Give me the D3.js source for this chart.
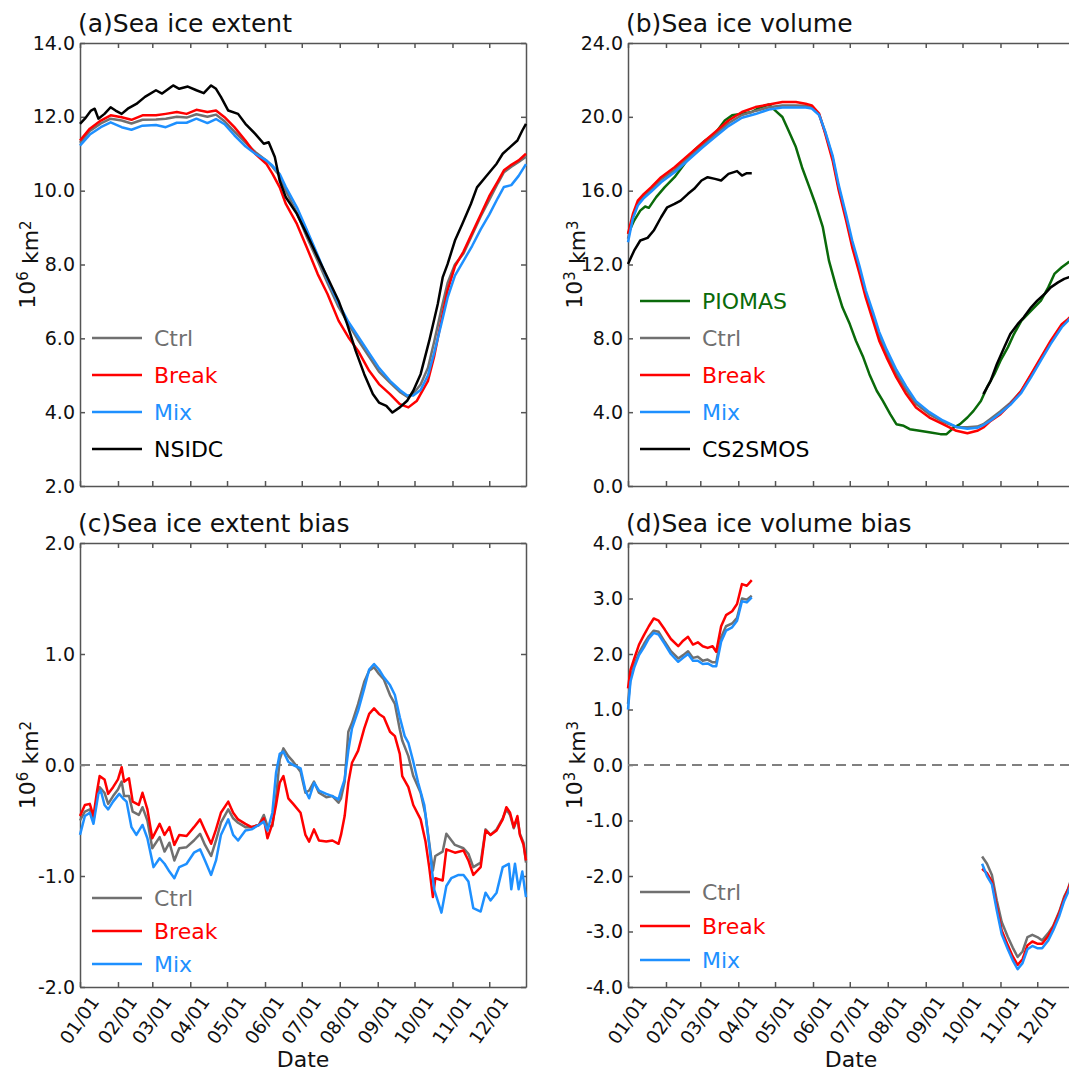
<!DOCTYPE html>
<html>
<head>
<meta charset="utf-8">
<script src="https://cdn.jsdelivr.net/npm/d3@7"></script>
<style>
body { margin: 0; background: #fff; }
text { font-family: "DejaVu Sans", sans-serif; }
</style>
</head>
<body>
<svg id="chart" width="1069" height="1071"></svg>
<script>
// month ticks (day of year) and labels
var monthDays = [0, 31, 59, 90, 120, 151, 181, 212, 243, 273, 304, 334];
var monthLabels = ["01/01","02/01","03/01","04/01","05/01","06/01","07/01","08/01","09/01","10/01","11/01","12/01"];

// (a) sea ice extent, 10^6 km2  [day, value]
var extCtrl = [[0,11.3],[8,11.62],[17,11.82],[25,11.95],[34,11.9],[42,11.82],[51,11.92],[62,11.93],[70,11.95],[79,12.0],[87,11.98],[95,12.07],[104,12.0],[111,12.06],[118,11.88],[126,11.6],[135,11.3],[143,11.05],[152,10.82],[157,10.65],[163,10.4],[168,10.0],[177,9.4],[185,8.75],[194,8.1],[202,7.5],[211,6.85],[219,6.4],[227,5.95],[236,5.5],[244,5.1],[253,4.8],[261,4.55],[267,4.42],[272,4.5],[278,4.75],[284,5.2],[289,5.9],[295,6.8],[300,7.5],[306,8.0],[313,8.3],[320,8.8],[327,9.3],[334,9.75],[341,10.2],[346,10.5],[352,10.65],[358,10.78],[364,10.92]];
var extBreak = [[0,11.36],[8,11.68],[17,11.9],[25,12.04],[34,11.99],[42,11.92],[51,12.04],[62,12.04],[70,12.08],[79,12.13],[87,12.08],[95,12.19],[104,12.13],[111,12.17],[118,11.99],[126,11.72],[135,11.36],[143,11.0],[152,10.73],[157,10.46],[163,10.09],[168,9.64],[177,9.1],[185,8.47],[194,7.74],[202,7.2],[211,6.48],[219,6.03],[227,5.66],[236,5.12],[244,4.76],[253,4.49],[261,4.22],[268,4.13],[275,4.31],[284,4.85],[289,5.5],[295,6.5],[300,7.3],[306,7.95],[313,8.35],[320,8.85],[327,9.35],[334,9.85],[341,10.25],[346,10.55],[352,10.7],[358,10.82],[364,11.0]];
var extMix = [[0,11.22],[8,11.52],[17,11.72],[25,11.85],[34,11.72],[42,11.65],[51,11.76],[62,11.78],[70,11.72],[79,11.84],[87,11.84],[95,11.95],[104,11.83],[111,11.94],[118,11.8],[126,11.5],[135,11.2],[143,11.0],[152,10.82],[157,10.68],[163,10.45],[168,10.1],[177,9.55],[185,8.95],[194,8.25],[202,7.6],[211,6.95],[219,6.45],[227,6.05],[236,5.6],[244,5.2],[253,4.85],[261,4.6],[267,4.45],[272,4.45],[278,4.6],[284,5.0],[289,5.6],[295,6.4],[300,7.1],[306,7.7],[313,8.1],[320,8.5],[327,8.95],[334,9.35],[341,9.8],[346,10.1],[352,10.15],[358,10.4],[364,10.72]];
var extNsidc = [[0,11.81],[4,11.95],[9,12.17],[12,12.22],[15,11.95],[20,12.08],[25,12.26],[29,12.17],[34,12.08],[39,12.22],[46,12.35],[53,12.54],[62,12.72],[67,12.63],[76,12.85],[81,12.76],[88,12.82],[95,12.72],[101,12.64],[107,12.85],[111,12.76],[115,12.54],[121,12.17],[129,12.08],[135,11.81],[143,11.54],[150,11.27],[154,11.31],[159,10.91],[163,10.27],[168,9.82],[177,9.37],[185,8.83],[194,8.2],[202,7.65],[211,7.02],[218,6.39],[225,5.66],[232,5.03],[239,4.49],[244,4.26],[250,4.17],[255,3.99],[261,4.13],[267,4.31],[272,4.58],[278,5.03],[285,5.93],[292,6.93],[296,7.65],[300,8.01],[306,8.65],[312,9.1],[319,9.64],[324,10.09],[331,10.37],[340,10.73],[345,11.0],[351,11.18],[357,11.36],[361,11.63],[364,11.81]];

// (b) sea ice volume, 10^3 km3
var volPiomas = [[0,13.66],[5,14.38],[10,14.92],[14,15.14],[17,15.07],[23,15.65],[30,16.19],[38,16.73],[46,17.45],[54,18.18],[63,18.72],[71,19.08],[79,19.8],[85,20.08],[93,20.17],[101,20.26],[107,20.49],[115,20.67],[120,20.35],[126,19.99],[131,19.26],[137,18.36],[142,17.27],[148,16.19],[153,15.28],[159,14.02],[164,12.21],[170,10.76],[175,9.68],[181,8.77],[186,7.87],[192,6.97],[197,6.06],[203,5.16],[208,4.61],[214,3.89],[219,3.35],[225,3.26],[230,3.08],[238,2.99],[247,2.9],[255,2.81],[260,2.81],[266,3.17],[271,3.35],[277,3.71],[282,4.07],[288,4.61],[293,5.34],[299,6.06],[304,6.79],[310,7.51],[315,8.23],[321,8.95],[329,9.5],[337,10.04],[343,10.76],[348,11.49],[354,11.85],[359,12.1],[364,12.3]];
var volCtrl = [[0,13.4],[4,14.6],[8,15.3],[13,15.7],[19,16.05],[27,16.6],[38,17.12],[49,17.78],[60,18.42],[71,19.03],[82,19.65],[93,20.1],[104,20.32],[115,20.52],[126,20.62],[137,20.62],[145,20.6],[150,20.52],[156,20.12],[161,19.15],[167,17.78],[172,16.15],[178,14.55],[183,13.1],[189,11.7],[194,10.4],[200,9.2],[205,8.1],[211,7.2],[219,6.1],[227,5.2],[235,4.45],[246,3.88],[257,3.48],[268,3.2],[277,3.18],[285,3.22],[290,3.35],[296,3.65],[304,4.05],[312,4.5],[321,5.15],[329,6.0],[337,6.9],[345,7.8],[354,8.7],[359,9.0],[364,9.3]];
var volBreak = [[0,13.66],[4,14.74],[8,15.46],[13,15.83],[19,16.19],[27,16.73],[38,17.27],[49,17.91],[60,18.54],[71,19.17],[82,19.8],[93,20.26],[104,20.53],[115,20.67],[126,20.8],[137,20.8],[145,20.71],[150,20.62],[156,20.17],[161,19.08],[167,17.63],[172,16.01],[178,14.38],[183,12.93],[189,11.49],[194,10.22],[200,8.95],[205,7.87],[211,6.97],[219,5.88],[227,4.98],[235,4.25],[246,3.71],[257,3.35],[268,2.99],[277,2.86],[285,2.99],[290,3.17],[296,3.53],[304,3.89],[312,4.43],[321,5.16],[329,6.06],[337,6.97],[345,7.87],[354,8.77],[359,9.04],[364,9.35]];
var volMix = [[0,13.2],[4,14.5],[8,15.2],[13,15.6],[19,15.95],[27,16.45],[38,17.0],[49,17.65],[60,18.3],[71,18.9],[82,19.5],[93,19.95],[104,20.15],[115,20.4],[126,20.5],[137,20.5],[145,20.5],[150,20.45],[156,20.1],[161,19.2],[167,17.9],[172,16.3],[178,14.7],[183,13.3],[189,11.9],[194,10.6],[200,9.4],[205,8.35],[211,7.4],[219,6.3],[227,5.4],[235,4.6],[246,4.0],[257,3.55],[268,3.2],[277,3.1],[285,3.15],[290,3.3],[296,3.55],[304,3.95],[312,4.4],[321,5.05],[329,5.9],[337,6.8],[345,7.7],[354,8.6],[359,8.95],[364,9.3]];
var volCs2smosA = [[0,12.03],[5,12.75],[10,13.3],[16,13.44],[21,13.84],[27,14.56],[32,15.1],[38,15.28],[43,15.46],[49,15.83],[54,16.1],[60,16.55],[65,16.73],[71,16.64],[76,16.55],[82,16.91],[89,17.06],[93,16.82],[97,16.95],[101,16.95]];
var volCs2smosB = [[290,4.98],[296,5.7],[301,6.6],[307,7.51],[312,8.23],[318,8.77],[323,9.14],[329,9.68],[334,10.04],[340,10.4],[345,10.76],[351,11.03],[356,11.22],[360,11.31],[364,11.4]];

// (c) extent bias, 10^6 km2
var biasExtCtrl = [[0,-0.5],[4,-0.42],[8,-0.4],[11,-0.5],[14,-0.28],[16,-0.2],[20,-0.25],[23,-0.35],[27,-0.28],[31,-0.22],[34,-0.15],[36,-0.28],[40,-0.28],[43,-0.42],[48,-0.45],[51,-0.38],[55,-0.5],[59,-0.75],[65,-0.65],[69,-0.78],[73,-0.7],[77,-0.86],[81,-0.75],[87,-0.74],[93,-0.68],[98,-0.62],[102,-0.72],[107,-0.82],[111,-0.68],[115,-0.52],[121,-0.4],[125,-0.48],[129,-0.52],[135,-0.56],[140,-0.56],[146,-0.54],[150,-0.45],[153,-0.55],[157,-0.55],[160,-0.3],[163,0.05],[166,0.15],[170,0.08],[174,0.03],[180,-0.06],[184,-0.25],[187,-0.23],[191,-0.15],[195,-0.25],[201,-0.29],[206,-0.28],[211,-0.34],[213,-0.3],[216,-0.15],[219,0.3],[222,0.38],[227,0.55],[232,0.75],[236,0.85],[240,0.88],[244,0.82],[248,0.77],[253,0.63],[257,0.55],[261,0.32],[263,0.22],[268,0.08],[272,-0.1],[278,-0.25],[282,-0.45],[285,-0.7],[288,-0.95],[290,-0.82],[296,-0.78],[299,-0.62],[306,-0.72],[313,-0.75],[317,-0.8],[321,-0.92],[327,-0.88],[331,-0.58],[335,-0.63],[340,-0.58],[345,-0.48],[348,-0.4],[351,-0.45],[354,-0.57],[357,-0.48],[359,-0.62],[362,-0.7],[364,-0.88]];
var biasExtBreak = [[0,-0.46],[4,-0.36],[8,-0.35],[11,-0.46],[14,-0.23],[16,-0.1],[20,-0.13],[23,-0.26],[27,-0.2],[31,-0.13],[34,-0.02],[36,-0.15],[40,-0.12],[43,-0.33],[48,-0.36],[51,-0.25],[55,-0.4],[59,-0.66],[65,-0.53],[69,-0.63],[73,-0.56],[77,-0.72],[81,-0.63],[87,-0.64],[93,-0.56],[98,-0.49],[102,-0.59],[107,-0.71],[111,-0.58],[115,-0.43],[121,-0.33],[125,-0.43],[129,-0.49],[135,-0.53],[140,-0.56],[146,-0.54],[150,-0.48],[153,-0.66],[157,-0.53],[160,-0.36],[163,-0.16],[166,-0.1],[170,-0.3],[174,-0.35],[180,-0.43],[184,-0.63],[187,-0.69],[191,-0.58],[195,-0.68],[201,-0.69],[206,-0.68],[211,-0.71],[213,-0.63],[216,-0.46],[219,-0.16],[222,0.02],[227,0.13],[232,0.33],[236,0.46],[240,0.51],[244,0.46],[248,0.43],[253,0.3],[257,0.26],[261,0.1],[263,-0.1],[268,-0.2],[272,-0.36],[278,-0.49],[282,-0.69],[285,-0.92],[288,-1.19],[290,-1.02],[296,-1.04],[299,-0.76],[306,-0.79],[313,-0.77],[317,-0.86],[321,-0.99],[327,-0.92],[331,-0.59],[335,-0.63],[340,-0.59],[345,-0.49],[348,-0.38],[351,-0.43],[354,-0.56],[357,-0.46],[359,-0.63],[362,-0.72],[364,-0.86]];
var biasExtMix = [[0,-0.63],[4,-0.46],[8,-0.43],[11,-0.53],[15,-0.26],[17,-0.23],[20,-0.36],[23,-0.4],[27,-0.33],[32,-0.26],[35,-0.3],[38,-0.33],[42,-0.56],[46,-0.63],[51,-0.54],[55,-0.66],[60,-0.92],[65,-0.84],[69,-0.89],[73,-0.96],[77,-1.02],[81,-0.92],[87,-0.89],[93,-0.79],[98,-0.76],[102,-0.86],[107,-0.99],[111,-0.86],[115,-0.63],[121,-0.49],[125,-0.63],[129,-0.68],[135,-0.59],[140,-0.58],[146,-0.54],[150,-0.51],[153,-0.59],[157,-0.43],[160,-0.07],[163,0.1],[166,0.12],[170,0.03],[174,0.0],[180,-0.03],[184,-0.23],[187,-0.3],[191,-0.16],[195,-0.23],[201,-0.26],[206,-0.28],[211,-0.31],[213,-0.23],[216,-0.13],[219,0.13],[222,0.33],[227,0.49],[232,0.69],[236,0.86],[240,0.91],[244,0.86],[248,0.79],[253,0.72],[257,0.63],[261,0.43],[265,0.26],[268,0.2],[272,0.03],[276,-0.16],[281,-0.36],[285,-0.72],[289,-1.12],[295,-1.33],[299,-1.09],[303,-1.02],[309,-0.99],[313,-0.99],[317,-1.05],[321,-1.29],[327,-1.32],[331,-1.15],[335,-1.22],[340,-1.15],[345,-0.92],[350,-0.89],[352,-1.12],[355,-0.89],[358,-1.12],[361,-0.96],[364,-1.19]];

// (d) volume bias, 10^3 km3 (two periods with CS2SMOS data)
var biasVolCtrlA = [[0,1.1],[2,1.55],[5,1.8],[9,2.02],[13,2.18],[17,2.32],[21,2.42],[25,2.4],[30,2.22],[35,2.05],[41,1.92],[45,1.98],[49,2.05],[53,1.93],[57,1.95],[61,1.88],[65,1.9],[69,1.85],[72,1.85],[76,2.3],[80,2.5],[85,2.55],[89,2.65],[93,3.0],[97,2.98],[101,3.05]];
var biasVolBreakA = [[0,1.38],[2,1.71],[5,1.91],[9,2.17],[13,2.34],[17,2.5],[21,2.64],[25,2.6],[30,2.44],[35,2.27],[41,2.14],[45,2.24],[49,2.31],[53,2.17],[57,2.21],[61,2.14],[65,2.11],[69,2.14],[72,2.04],[76,2.5],[80,2.7],[85,2.77],[89,2.9],[93,3.26],[97,3.23],[101,3.33]];
var biasVolMixA = [[0,1.0],[2,1.5],[5,1.75],[9,1.98],[13,2.12],[17,2.28],[21,2.38],[25,2.35],[30,2.18],[35,2.0],[41,1.86],[45,1.93],[49,2.0],[53,1.88],[57,1.88],[61,1.82],[65,1.83],[69,1.78],[72,1.78],[76,2.22],[80,2.42],[85,2.48],[89,2.6],[93,2.95],[97,2.93],[101,3.02]];
var biasVolCtrlB = [[289,-1.65],[293,-1.78],[297,-1.98],[301,-2.44],[305,-2.83],[310,-3.1],[314,-3.29],[318,-3.46],[322,-3.36],[326,-3.1],[330,-3.06],[334,-3.1],[338,-3.16],[343,-3.03],[347,-2.9],[352,-2.64],[356,-2.37],[359,-2.24],[364,-1.9]];
var biasVolBreakB = [[289,-1.87],[293,-1.95],[297,-2.1],[301,-2.55],[305,-2.98],[310,-3.25],[314,-3.45],[318,-3.6],[322,-3.5],[326,-3.25],[330,-3.18],[334,-3.22],[338,-3.22],[343,-3.08],[347,-2.92],[352,-2.66],[356,-2.4],[359,-2.25],[364,-1.95]];
var biasVolMixB = [[289,-1.78],[293,-2.0],[297,-2.15],[301,-2.62],[305,-3.05],[310,-3.32],[314,-3.52],[318,-3.68],[322,-3.57],[326,-3.32],[330,-3.26],[334,-3.3],[338,-3.3],[343,-3.16],[347,-2.98],[352,-2.72],[356,-2.45],[359,-2.3],[364,-2.0]];

var colCtrl = "#707070", colBreak = "#ff0000", colMix = "#1e90ff", colObs = "#000000", colPiomas = "#0a6a0a";

var svg = d3.select("#chart");
var pw = 446, axisCol = "#555", lw = 2.5;

function drawPanel(p) {
  var g = svg.append("g");
  var x = d3.scaleLinear().domain([0, 364]).range([p.left, p.left + pw]);
  var y = d3.scaleLinear().domain(p.yDomain).range([p.top + p.h, p.top]);
  var fmt = function(d) { return d.toFixed(1); };

  // axes with inward ticks on all sides
  var left = g.append("g").attr("transform", "translate(" + p.left + ",0)")
    .call(d3.axisLeft(y).tickValues(p.yTicks).tickSize(-5).tickSizeOuter(0).tickPadding(5).tickFormat(fmt));
  var right = g.append("g").attr("transform", "translate(" + (p.left + pw) + ",0)")
    .call(d3.axisRight(y).tickValues(p.yTicks).tickSize(-5).tickSizeOuter(0).tickFormat(""));
  var top = g.append("g").attr("transform", "translate(0," + p.top + ")")
    .call(d3.axisTop(x).tickValues(monthDays).tickSize(-5).tickSizeOuter(0).tickFormat(""));
  var bottom = g.append("g").attr("transform", "translate(0," + (p.top + p.h) + ")")
    .call(d3.axisBottom(x).tickValues(monthDays).tickSize(-5).tickSizeOuter(0).tickFormat(""));
  [left, right, top, bottom].forEach(function(a) {
    a.selectAll("path, line").attr("stroke", axisCol).attr("stroke-width", 1.5);
  });
  left.selectAll("text").attr("font-size", 19).attr("fill", "#111").style("font-family", "DejaVu Sans");

  if (p.dateAxis) {
    bottom.selectAll(".tick").append("text")
      .attr("fill", "#111")
      .attr("font-size", 18.5)
      .attr("text-anchor", "middle")
      .attr("dy", "0.35em")
      .attr("transform", "translate(-1,33) rotate(-55)")
      .text(function(d, i) { return monthLabels[i]; });
    g.append("text")
      .attr("x", p.left + pw / 2).attr("y", p.top + p.h + 80)
      .attr("text-anchor", "middle").attr("font-size", 22).attr("fill", "#111")
      .text("Date");
  }

  if (p.zero) {
    g.append("line")
      .attr("x1", x(0)).attr("x2", x(364)).attr("y1", y(0)).attr("y2", y(0))
      .attr("stroke", "#808080").attr("stroke-width", 2).attr("stroke-dasharray", "10,6");
  }

  var line = d3.line().x(function(d) { return x(d[0]); }).y(function(d) { return y(d[1]); });
  p.series.forEach(function(s) {
    s.data.forEach(function(seg) {
      g.append("path").datum(seg)
        .attr("d", line).attr("fill", "none")
        .attr("stroke", s.color).attr("stroke-width", lw)
        .attr("stroke-linejoin", "round");
    });
  });

  // legend
  p.legend.forEach(function(s, i) {
    var ly = p.top + p.legendY[i];
    g.append("line")
      .attr("x1", p.left + 12).attr("x2", p.left + 62).attr("y1", ly).attr("y2", ly)
      .attr("stroke", s.color).attr("stroke-width", lw);
    g.append("text")
      .attr("x", p.left + 74).attr("y", ly).attr("dy", "0.36em")
      .attr("font-size", 22).attr("fill", s.color).text(s.name);
  });

  // title and y label
  g.append("text").attr("x", p.left - 2).attr("y", p.top - 11)
    .attr("font-size", 25).attr("fill", "#111").text(p.title);
  var yl = g.append("text")
    .attr("transform", "translate(" + (p.left - p.ylabOff) + "," + (p.top + p.h / 2) + ") rotate(-90)")
    .attr("text-anchor", "middle").attr("font-size", 22).attr("fill", "#111");
  yl.append("tspan").text("10");
  yl.append("tspan").attr("dy", "-0.45em").attr("font-size", 15).text(p.yExp);
  yl.append("tspan").attr("dy", "0.45em").text(" km");
  yl.append("tspan").attr("dy", "-0.45em").attr("font-size", 15).text(p.yUnitExp);
}

var sCtrl = { name: "Ctrl", color: colCtrl }, sBreak = { name: "Break", color: colBreak }, sMix = { name: "Mix", color: colMix };

drawPanel({
  left: 80, top: 43, h: 443, yDomain: [2, 14], yTicks: [2, 4, 6, 8, 10, 12, 14],
  title: "(a)Sea ice extent", yExp: "6", yUnitExp: "2", ylabOff: 45,
  series: [
    { color: colCtrl, data: [extCtrl] },
    { color: colBreak, data: [extBreak] },
    { color: colMix, data: [extMix] },
    { color: colObs, data: [extNsidc] }
  ],
  legend: [sCtrl, sBreak, sMix, { name: "NSIDC", color: colObs }],
  legendY: [295, 332, 369, 406]
});

drawPanel({
  left: 628, top: 43, h: 443, yDomain: [0, 24], yTicks: [0, 4, 8, 12, 16, 20, 24],
  title: "(b)Sea ice volume", yExp: "3", yUnitExp: "3", ylabOff: 46,
  series: [
    { color: colPiomas, data: [volPiomas] },
    { color: colCtrl, data: [volCtrl] },
    { color: colBreak, data: [volBreak] },
    { color: colMix, data: [volMix] },
    { color: colObs, data: [volCs2smosA, volCs2smosB] }
  ],
  legend: [{ name: "PIOMAS", color: colPiomas }, sCtrl, sBreak, sMix, { name: "CS2SMOS", color: colObs }],
  legendY: [258, 295, 332, 369, 406]
});

drawPanel({
  left: 80, top: 543, h: 444, yDomain: [-2, 2], yTicks: [-2, -1, 0, 1, 2],
  title: "(c)Sea ice extent bias", yExp: "6", yUnitExp: "2", ylabOff: 45,
  zero: true, dateAxis: true,
  series: [
    { color: colCtrl, data: [biasExtCtrl] },
    { color: colBreak, data: [biasExtBreak] },
    { color: colMix, data: [biasExtMix] }
  ],
  legend: [sCtrl, sBreak, sMix],
  legendY: [355, 388, 421]
});

drawPanel({
  left: 628, top: 543, h: 444, yDomain: [-4, 4], yTicks: [-4, -3, -2, -1, 0, 1, 2, 3, 4],
  title: "(d)Sea ice volume bias", yExp: "3", yUnitExp: "3", ylabOff: 46,
  zero: true, dateAxis: true,
  series: [
    { color: colCtrl, data: [biasVolCtrlA, biasVolCtrlB] },
    { color: colBreak, data: [biasVolBreakA, biasVolBreakB] },
    { color: colMix, data: [biasVolMixA, biasVolMixB] }
  ],
  legend: [sCtrl, sBreak, sMix],
  legendY: [349, 383, 417]
});
</script>
</body>
</html>
